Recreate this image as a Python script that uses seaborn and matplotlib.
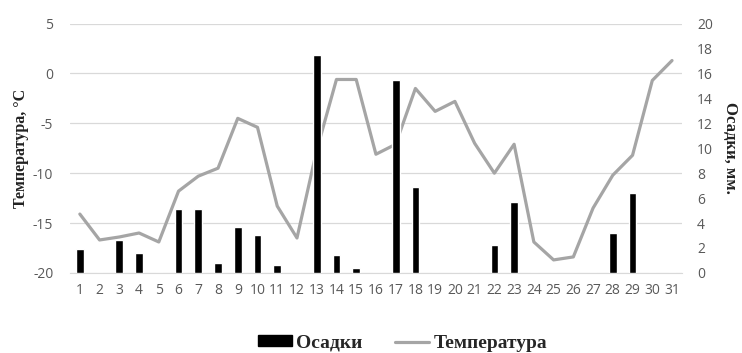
import matplotlib
matplotlib.use("Agg")
from matplotlib import pyplot as plt
from matplotlib.patches import Patch
from matplotlib.lines import Line2D
import seaborn as sns
import pandas as pd

days = list(range(1, 32))
temperature = [-14.1, -16.7, -16.4, -16.0, -16.9, -11.8, -10.3, -9.5, -4.5, -5.4,
               -13.3, -16.5, -7.7, -0.6, -0.6, -8.1, -7.1, -1.5, -3.8, -2.8,
               -7.0, -10.0, -7.1, -16.9, -18.7, -18.4, -13.5, -10.2, -8.2, -0.7, 1.3]
precip = [1.9, 0, 2.6, 1.6, 0, 5.1, 5.1, 0.8, 3.7, 3.0,
          0.6, 0, 17.5, 1.4, 0.4, 0, 15.5, 6.9, 0, 0,
          0, 2.2, 5.7, 0, 0, 0, 0, 3.2, 6.4, 0, 0]

df = pd.DataFrame({"day": days, "temp": temperature, "precip": precip})

sns.set_style("white")
plt.rcParams["axes.unicode_minus"] = False
serif = ["Liberation Serif", "DejaVu Serif"]
tick_font = "Open Sans"
grey_txt = "#595959"
line_col = "#a5a5a5"

fig, ax = plt.subplots(figsize=(7.42, 3.53), dpi=100)
fig.subplots_adjust(left=0.0943, right=0.919, top=0.933, bottom=0.227)

# temperature on the left axis
sns.lineplot(data=df, x="day", y="temp", ax=ax, color=line_col, linewidth=2.3)
ax.set_ylim(-20, 5)
ax.set_yticks([5, 0, -5, -10, -15, -20])
ax.set_xlim(0.5, 31.5)
ax.set_xticks(days)
ax.grid(axis="y", color="#d9d9d9", linewidth=0.9)
ax.grid(axis="x", visible=False)
for s in ax.spines.values():
    s.set_visible(False)
ax.spines["bottom"].set_visible(True)
ax.spines["bottom"].set_color("#d9d9d9")
ax.tick_params(axis="y", length=0, labelsize=10, labelcolor=grey_txt, pad=12)
ax.tick_params(axis="x", length=0, labelsize=10, labelcolor=grey_txt, pad=7)
for lab in ax.get_xticklabels() + ax.get_yticklabels():
    lab.set_fontfamily(tick_font)
ax.set_xlabel("")
ax.set_ylabel("Температура, °C", fontfamily=serif, fontweight="bold", fontsize=11.5,
              color="#222222", labelpad=3)

# precipitation bars on the right axis
ax2 = ax.twinx()
sns.barplot(data=df, x="day", y="precip", ax=ax2, native_scale=True, color="black",
            width=0.39, saturation=1)
ax2.set_ylim(0, 20)
ax2.set_yticks(range(0, 21, 2))
ax2.set_xlim(0.5, 31.5)
for s in ax2.spines.values():
    s.set_visible(False)
ax2.tick_params(length=0, labelsize=10, labelcolor=grey_txt, pad=11)
for lab in ax2.get_yticklabels():
    lab.set_fontfamily(tick_font)
ax2.set_xlabel("")
ax2.set_ylabel("Осадки, мм.", fontfamily=serif, fontweight="bold", fontsize=12,
               color="#222222", rotation=270, labelpad=18)

handles = [Patch(facecolor="black", edgecolor="black"),
           Line2D([0], [0], color=line_col, linewidth=2.3)]
fig.legend(handles, ["Осадки", "Температура"], loc="center", bbox_to_anchor=(0.5425, 0.028),
           ncol=2, frameon=False, prop={"family": serif, "weight": "bold", "size": 14},
           handlelength=1.75, handleheight=0.45, columnspacing=1.65, handletextpad=0.25)

fig.savefig("out.png", dpi=100)
